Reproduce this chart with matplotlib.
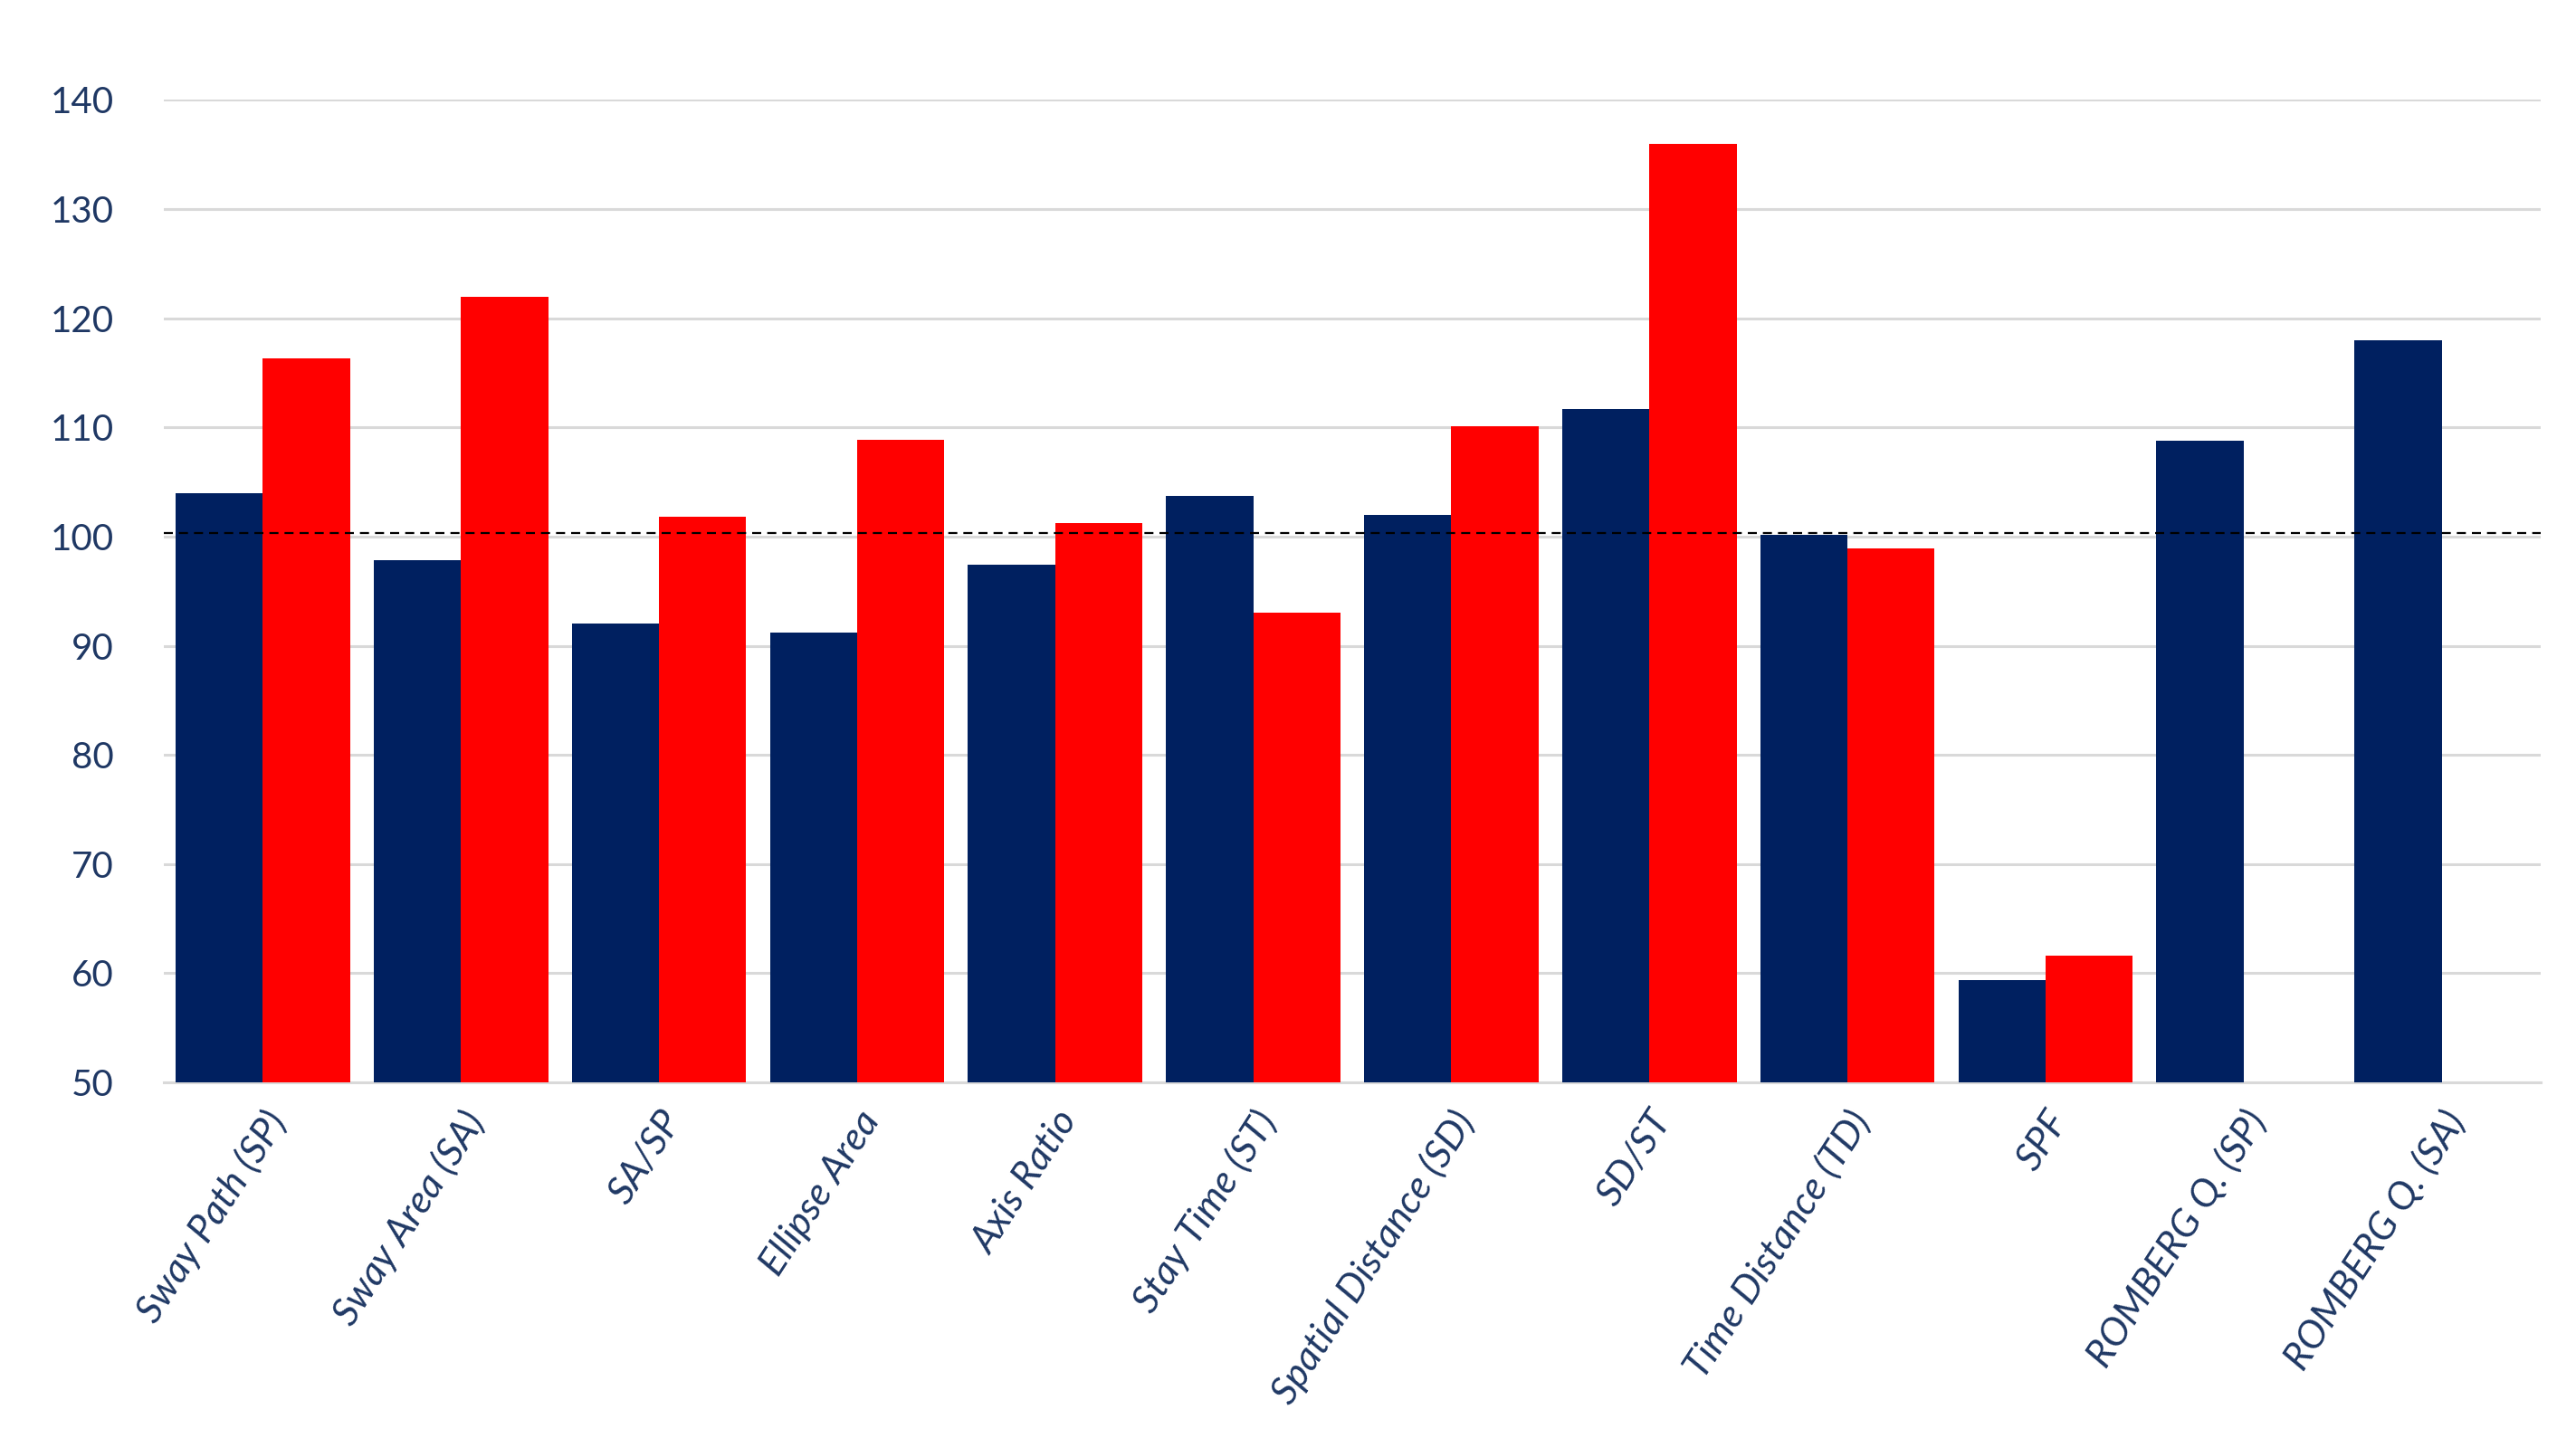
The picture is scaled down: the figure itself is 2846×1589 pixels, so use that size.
import numpy as np
import matplotlib.pyplot as plt

plt.rcParams['font.family'] = ['Lato', 'DejaVu Sans']

# 数据
categories = ['Sway Path (SP)', 'Sway Area (SA)', 'SA/SP', 'Ellipse Area', 'Axis Ratio',
              'Stay Time (ST)', 'Spatial Distance (SD)', 'SD/ST', 'Time Distance (TD)',
              'SPF', 'ROMBERG Q. (SP)', 'ROMBERG Q. (SA)']
blue_vals = [104.0, 97.8, 92.0, 91.2, 97.4, 103.7, 102.0, 111.7, 100.2, 59.4, 108.8, 118.0]
red_vals = [116.3, 122.0, 101.8, 108.9, 101.2, 93.0, 110.1, 136.0, 98.9, 61.6, np.nan, np.nan]
ref_level = 100.35
yticks = [50, 60, 70, 80, 90, 100, 110, 120, 130, 140]

navy = '#002060'
red = '#FF0000'
text_col = '#1F3864'

fig = plt.figure(figsize=(28.46, 15.89), dpi=100)
ax = fig.add_axes([0.0636, 0.2473, 0.9227, 0.6832])

x = np.arange(len(categories))
w = 0.44
ax.bar(x - w / 2, np.array(blue_vals) - 50, width=w, bottom=50, color=navy, zorder=3)
ax.bar(x + w / 2, np.array(red_vals) - 50, width=w, bottom=50, color=red, zorder=3)

# 参考线
ax.axhline(ref_level, color='black', lw=1.6, dashes=(4.5, 3), zorder=4)

ax.set_xlim(-0.5, len(categories) - 0.5)
ax.set_ylim(50, 140)
ax.set_yticks(yticks)
ax.yaxis.grid(True, color='#D9D9D9', lw=2.2, zorder=0)
ax.set_axisbelow(True)
for s in ['top', 'right', 'left']:
    ax.spines[s].set_visible(False)
ax.spines['bottom'].set_color('#D9D9D9')
ax.spines['bottom'].set_linewidth(2.2)

ax.tick_params(axis='y', length=0, pad=40, labelsize=29, labelcolor=text_col)
ax.tick_params(axis='x', length=0, pad=18)
ax.set_xticks(x)
ax.set_xticklabels(categories, rotation=57, ha='right', rotation_mode='anchor',
                   fontsize=31, color=text_col, style='italic')

fig.savefig('out.png', dpi=100)
